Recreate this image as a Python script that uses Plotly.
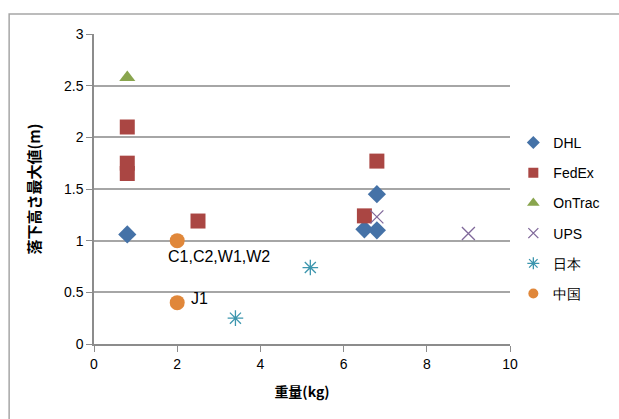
import plotly.graph_objects as go

series_names = ["DHL", "FedEx", "OnTrac", "UPS", "日本", "中国"]
dhl_x = [0.8, 6.5, 6.8, 6.8]
dhl_y = [1.06, 1.11, 1.10, 1.45]
fedex_x = [0.8, 0.8, 0.8, 2.5, 6.5, 6.8]
fedex_y = [2.10, 1.75, 1.65, 1.19, 1.24, 1.77]
ontrac_x = [0.8]
ontrac_y = [2.58]
ups_x = [6.8, 9.0]
ups_y = [1.23, 1.07]
japan_x = [3.4, 5.2]
japan_y = [0.25, 0.74]
china_x = [2.0, 2.0]
china_y = [1.00, 0.40]
china_labels = ["C1,C2,W1,W2", "J1"]

colors = ["#4572A7", "#AA4643", "#89A54E", "#80699B", "#3D96AE", "#E0873A"]
symbols = ["diamond", "square", "triangle-up", "x-thin", "asterisk", "circle"]
sizes = [14, 15, 14, 13, 13, 15]
leg_sizes = [10, 10, 11, 10, 10, 10]
xs = [dhl_x, fedex_x, ontrac_x, ups_x, japan_x, china_x]
ys = [dhl_y, fedex_y, ontrac_y, ups_y, japan_y, china_y]

fig = go.Figure()
for name, x, y, c, s, sz, lsz in zip(series_names, xs, ys, colors, symbols, sizes, leg_sizes):
    thin = s in ("x-thin", "asterisk")
    line = dict(width=1.3, color=c) if thin else dict(width=0)
    fig.add_trace(go.Scatter(x=x, y=y, mode="markers", name=name, showlegend=False,
                             legendgroup=name,
                             marker=dict(symbol=s, size=sz, color=c, line=line)))
    fig.add_trace(go.Scatter(x=[None], y=[None], mode="markers", name=name, showlegend=True,
                             legendgroup=name,
                             marker=dict(symbol=s, size=lsz, color=c, line=line)))

fig.add_annotation(x=china_x[0], y=china_y[0], text=china_labels[0], showarrow=False,
                   xanchor="left", yanchor="middle", xshift=-11, yshift=-16,
                   font=dict(size=16, color="#000"))
fig.add_annotation(x=china_x[1], y=china_y[1], text=china_labels[1], showarrow=False,
                   xanchor="left", yanchor="middle", xshift=12, yshift=4,
                   font=dict(size=16, color="#000"))

fig.add_shape(type="rect", xref="paper", yref="paper", x0=-0.204, y0=-0.5, x1=1.5, y1=1.0645,
              line=dict(color="#A6A6A6", width=1.5), fillcolor="rgba(0,0,0,0)", layer="below")

fig.update_layout(
    width=619, height=419,
    margin=dict(l=94, r=109, t=34, b=75, autoexpand=False),
    paper_bgcolor="white", plot_bgcolor="white",
    font=dict(family="Liberation Sans, Arial, sans-serif", size=14, color="#000"),
    legend=dict(x=1.008, y=0.405, xanchor="left", yanchor="middle",
                font=dict(size=14), tracegroupgap=9, itemwidth=30,
                bgcolor="rgba(0,0,0,0)"),
    showlegend=True,
)
fig.update_xaxes(range=[0, 10], dtick=2, showgrid=False, zeroline=False,
                 showline=True, linecolor="#8C8C8C", linewidth=1.5,
                 ticks="outside", ticklen=6, tickcolor="#8C8C8C",
                 title=dict(text="<b>重量(kg)</b>", font=dict(family="Noto Sans CJK JP", size=14), standoff=17))
fig.update_yaxes(range=[0, 3], dtick=0.5, showgrid=True, gridcolor="#A6A6A6", gridwidth=1.5,
                 zeroline=False, showline=True, linecolor="#8C8C8C", linewidth=1.5,
                 ticks="outside", ticklen=6, tickcolor="#8C8C8C",
                 title=dict(text="<b>落下高さ最大値(m)</b>", font=dict(family="Noto Sans CJK JP", size=15), standoff=20))

fig.write_html("out.html")
